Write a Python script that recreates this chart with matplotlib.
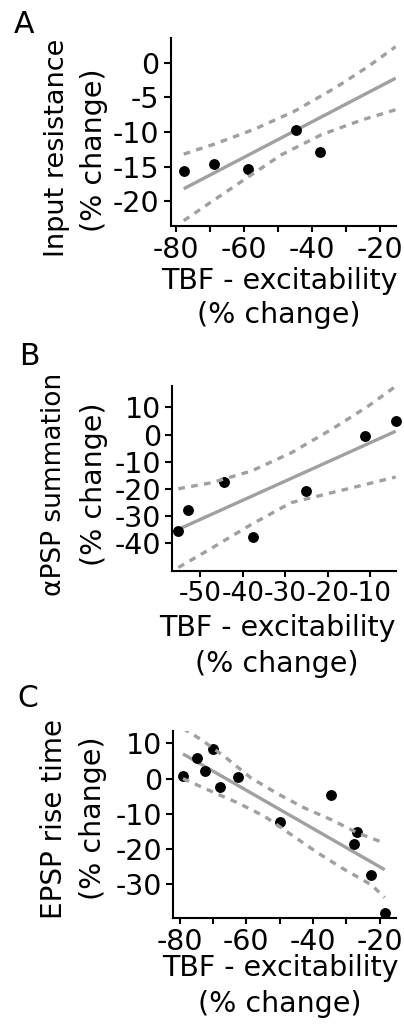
import matplotlib
matplotlib.use('AGG')

import numpy as np
import matplotlib.pyplot as plt
from matplotlib.ticker import FixedLocator

plt.rcParams['axes.unicode_minus'] = False

W, H = 404, 1026

# panel A - input resistance
a_x = [-77.8, -69.0, -58.8, -44.8, -37.7]
a_y = [-15.6, -14.7, -15.4, -9.7, -12.9]
a_fit_x = [-77.8, -15.3]
a_fit_y = [-18.2, -2.25]
a_up_x = [-77.8, -68.7, -56.9, -45.1, -33.3, -23.5, -15.3]
a_up_y = [-13.2, -11.75, -9.6, -7.0, -3.7, -0.6, 2.3]
a_lo_x = [-77.8, -69.7, -58.8, -49.0, -37.2, -25.4, -15.3]
a_lo_y = [-22.8, -20.1, -16.5, -13.3, -10.4, -8.3, -6.8]
a_xticks = [-80, -60, -40, -20]
a_xminor = [-70, -50, -30]
a_yticks = [0, -5, -10, -15, -20]

# panel B - aPSP summation
b_x = [-55.2, -52.9, -44.4, -37.6, -25.1, -11.3, -4.0]
b_y = [-35.6, -27.8, -17.3, -37.8, -20.7, -0.6, 5.1]
b_fit_x = [-55.2, -4.0]
b_fit_y = [-34.8, 1.2]
b_up_x = [-55.2, -47.4, -38.0, -28.6, -19.2, -10.5, -4.0]
b_up_y = [-19.9, -17.7, -13.4, -6.7, 1.8, 10.4, 17.7]
b_lo_x = [-55.2, -48.2, -38.0, -28.6, -19.2, -10.5, -4.0]
b_lo_y = [-48.8, -42.5, -33.0, -25.0, -21.4, -18.1, -15.6]
b_xticks = [-50, -40, -30, -20, -10]
b_xminor = []
b_yticks = [10, 0, -10, -20, -30, -40]

# panel C - EPSP rise time
c_x = [-79.0, -74.7, -72.5, -70.0, -67.8, -62.5, -50.0, -34.5, -26.7, -27.7, -22.5, -18.5]
c_y = [0.7, 5.9, 2.1, 8.5, -2.4, 0.4, -12.4, -4.7, -15.0, -18.5, -27.4, -38.1]
c_fit_x = [-79.0, -18.5]
c_fit_y = [7.0, -25.8]
c_up_x = [-79.0, -73.6, -66.6, -58.6, -50.6, -42.6, -34.6, -26.6, -18.5]
c_up_y = [14.2, 11.1, 6.3, 0.2, -4.3, -8.3, -11.6, -15.4, -18.3]
c_lo_x = [-79.0, -70.5, -62.5, -54.5, -46.5, -38.5, -30.5, -22.5, -18.5]
c_lo_y = [0.0, -3.6, -6.9, -10.7, -15.9, -21.1, -25.8, -30.1, -33.7]
c_xticks = [-80, -60, -40, -20]
c_xminor = [-70, -50, -30]
c_yticks = [10, 0, -10, -20, -30]

GREY = '#a0a0a0'
FS = 20.5

fig = plt.figure(figsize=(W / 100, H / 100), dpi=100)


def px_axes(left, right, top, bottom):
    return fig.add_axes([left / W, 1 - bottom / H, (right - left) / W, (bottom - top) / H])


def draw(ax, x, y, fx, fy, ux, uy, lx, ly, xlim, ylim, xt, xm, yt, xfs=FS):
    ax.plot(fx, fy, color=GREY, lw=2.4, solid_capstyle='butt', zorder=2)
    ax.plot(x, y, 'o', color='black', ms=6.8, zorder=3, clip_on=False)
    for bx, by in ((ux, uy), (lx, ly)):
        ax.plot(bx, by, color=GREY, lw=2.4, ls=(0, (2.0, 1.9)), zorder=4)
    ax.set_xlim(*xlim)
    ax.set_ylim(*ylim)
    ax.xaxis.set_major_locator(FixedLocator(xt))
    ax.xaxis.set_minor_locator(FixedLocator(xm))
    ax.yaxis.set_major_locator(FixedLocator(yt))
    for s in ('top', 'right'):
        ax.spines[s].set_visible(False)
    for s in ('left', 'bottom'):
        ax.spines[s].set_linewidth(1.5)
    ax.tick_params(which='both', direction='out', width=1.5, length=5, labelsize=FS)
    ax.tick_params(axis='x', which='both', length=4.5, pad=3, labelsize=xfs)
    ax.tick_params(axis='y', pad=3)
    ax.patch.set_alpha(0)


ax_a = px_axes(170.7, 395.7, 38.3, 225.5)
draw(ax_a, a_x, a_y, a_fit_x, a_fit_y, a_up_x, a_up_y, a_lo_x, a_lo_y,
     (-81.65, -15.3), (-23.5, 3.5), a_xticks, a_xminor, a_yticks)

ax_b = px_axes(172, 395.7, 386.3, 571)
draw(ax_b, b_x, b_y, b_fit_x, b_fit_y, b_up_x, b_up_y, b_lo_x, b_lo_y,
     (-56.7, -4.0), (-50.1, 17.7), b_xticks, b_xminor, b_yticks, xfs=19)

ax_c = px_axes(173, 395.7, 731, 918)
draw(ax_c, c_x, c_y, c_fit_x, c_fit_y, c_up_x, c_up_y, c_lo_x, c_lo_y,
     (-82.0, -15.2), (-39.5, 13.5), c_xticks, c_xminor, c_yticks)


def txt(x, y, s, size=FS, **kw):
    fig.text(x / W, 1 - y / H, s, fontsize=size, **kw)


# panel letters
txt(14, 33, 'A', size=21.5, va='baseline', ha='left')
txt(19, 365, 'B', size=21.5, va='baseline', ha='left')
txt(17, 707, 'C', size=21.5, va='baseline', ha='left')

# y labels
rot = dict(rotation=90, ha='center', va='center')
txt(57, 148, 'Input resistance', size=19.5, **rot)
txt(94, 150, '(% change)', size=20.5, **rot)
txt(54, 484, '\u03b1PSP summation', size=19, **rot)
txt(94, 484, '(% change)', size=20.5, **rot)
txt(54, 819, 'EPSP rise time', size=20, **rot)
txt(93, 818, '(% change)', size=20.5, **rot)

# x labels
for cx, y1, y2 in ((279, 289, 323), (277, 636, 672), (280, 976, 1012)):
    txt(cx, y1, 'TBF - excitability', ha='center', va='baseline')
    txt(cx, y2, '(% change)', ha='center', va='baseline')

fig.savefig('out.png', dpi=100)
